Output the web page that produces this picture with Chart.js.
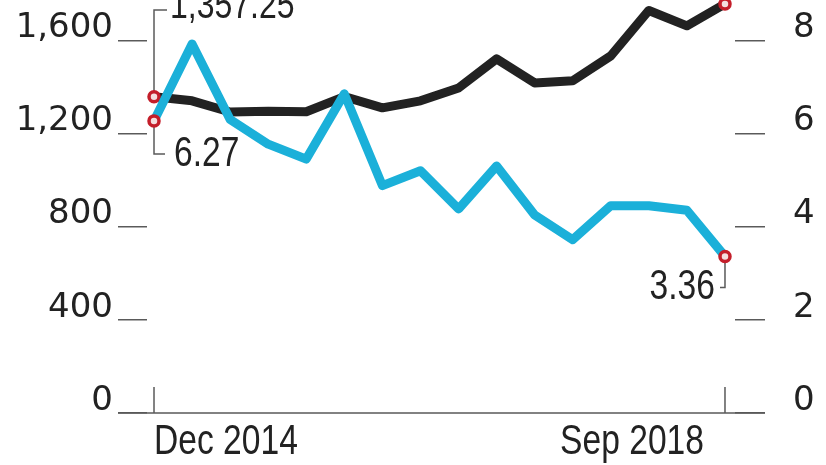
<!DOCTYPE html>
<html>
<head>
<meta charset="utf-8">
<script src="https://cdn.jsdelivr.net/npm/chart.js@4.4.1/dist/chart.umd.min.js"></script>
<style>
  html, body { margin: 0; padding: 0; background: #fff; }
  #wrap { width: 826px; height: 465px; }
</style>
</head>
<body>
<div id="wrap"><canvas id="chart" width="826" height="465"></canvas></div>
<script>
// quarterly, Dec 2014 .. Sep 2018
const quarters = [
  "Dec 2014", "Mar 2015", "Jun 2015", "Sep 2015",
  "Dec 2015", "Mar 2016", "Jun 2016", "Sep 2016",
  "Dec 2016", "Mar 2017", "Jun 2017", "Sep 2017",
  "Dec 2017", "Mar 2018", "Jun 2018", "Sep 2018"
];
// black line, left axis
const blackValues = [
  1357.25, 1340, 1292, 1295, 1293, 1358, 1310, 1340,
  1395, 1520, 1417, 1426, 1533, 1728, 1662, 1756
];
// blue line, right axis
const blueValues = [
  6.27, 7.92, 6.3, 5.77, 5.45, 6.85, 4.88, 5.2,
  4.38, 5.3, 4.25, 3.72, 4.45, 4.45, 4.35, 3.36
];
const leftTicks = [0, 400, 800, 1200, 1600];
const rightTicks = [0, 2, 4, 6, 8];
const shownQuarters = ["Dec 2014", "Sep 2018"];
const blackFirstLabel = "1,357.25";
const blueFirstLabel = "6.27";
const blueLastLabel = "3.36";

// top of the plot runs a bit past the last tick (lines reach the top edge)
const LEFT_MAX = 1760;
const RIGHT_MAX = LEFT_MAX / 200;

const INK = "#222";
const RULE = "#5a5a5a";
const BLUE = "#1bb0d9";
const DOT = "#c41e2a";
const last = quarters.length - 1;

const toPoints = (vals) => vals.map((v, i) => ({ x: i, y: v }));
const endRadius = (ctx) => (ctx.dataIndex === 0 || ctx.dataIndex === last ? 5 : 0);

// condensed text, like the narrow newspaper face
function narrowText(ctx, text, x, y, align, size) {
  ctx.save();
  ctx.font = size + "px 'Liberation Sans', Arial, sans-serif";
  ctx.fillStyle = INK;
  ctx.textBaseline = "alphabetic";
  ctx.translate(x, y);
  ctx.scale(0.8, 1);
  ctx.textAlign = align;
  ctx.fillText(text, 0, 0);
  ctx.restore();
}

const decorations = {
  id: "decorations",
  beforeDatasetsDraw(chart) {
    const { ctx, scales } = chart;
    const x = scales.x, yl = scales.yLeft, yr = scales.yRight;
    const x0 = x.getPixelForValue(0);
    const x1 = x.getPixelForValue(last);
    const base = yl.getPixelForValue(0);

    ctx.save();
    ctx.strokeStyle = RULE;
    ctx.lineWidth = 1.5;
    ctx.beginPath();
    // baseline
    ctx.moveTo(118, base);
    ctx.lineTo(765, base);
    // end ticks on the x axis
    ctx.moveTo(x0, base);
    ctx.lineTo(x0, base - 26);
    ctx.moveTo(x1, base);
    ctx.lineTo(x1, base - 26);
    // bracket to first black value
    const yb0 = yl.getPixelForValue(blackValues[0]);
    ctx.moveTo(x0, yb0);
    ctx.lineTo(x0, 10);
    ctx.lineTo(x0 + 13, 10);
    // bracket to first blue value
    const yc0 = yr.getPixelForValue(blueValues[0]);
    ctx.moveTo(x0, yc0);
    ctx.lineTo(x0, yc0 + 33);
    ctx.lineTo(x0 + 11, yc0 + 33);
    // bracket to last blue value
    const yc1 = yr.getPixelForValue(blueValues[last]);
    ctx.moveTo(x1, yc1);
    ctx.lineTo(x1, yc1 + 31);
    ctx.lineTo(x1 - 5, yc1 + 31);
    ctx.stroke();
    ctx.restore();
  },
  afterDraw(chart) {
    const { ctx, scales } = chart;
    const x = scales.x, yl = scales.yLeft, yr = scales.yRight;
    const x0 = x.getPixelForValue(0);
    const x1 = x.getPixelForValue(last);
    const base = yl.getPixelForValue(0);
    const yc0 = yr.getPixelForValue(blueValues[0]);
    const yc1 = yr.getPixelForValue(blueValues[last]);

    narrowText(ctx, blackFirstLabel, x0 + 16, 18, "left", 40);
    narrowText(ctx, blueFirstLabel, x0 + 20, yc0 + 45, "left", 42);
    narrowText(ctx, blueLastLabel, x1 - 10, yc1 + 43, "right", 42);
    narrowText(ctx, shownQuarters[0], x0, base + 41, "left", 42);
    narrowText(ctx, shownQuarters[1], x1 - 21, base + 41, "right", 42);
  }
};

const tickFont = { family: "'DejaVu Sans', sans-serif", size: 34 };

// keep the plot area exactly where the axes say, labels may overhang
function fitAxis(width) {
  return (s) => {
    s.width = width;
    s.paddingTop = 0;
    s.paddingBottom = 0;
  };
}

new Chart(document.getElementById("chart"), {
  type: "line",
  data: {
    datasets: [
      {
        data: toPoints(blueValues),
        yAxisID: "yRight",
        borderColor: BLUE,
        borderWidth: 9,
        borderJoinStyle: "round",
        tension: 0,
        clip: false,
        pointRadius: endRadius,
        pointBackgroundColor: "#f4dede",
        pointBorderColor: DOT,
        pointBorderWidth: 3.5
      },
      {
        data: toPoints(blackValues),
        yAxisID: "yLeft",
        borderColor: INK,
        borderWidth: 9,
        borderJoinStyle: "round",
        tension: 0,
        clip: false,
        pointRadius: endRadius,
        pointBackgroundColor: "#f4dede",
        pointBorderColor: DOT,
        pointBorderWidth: 3.5
      }
    ]
  },
  options: {
    responsive: false,
    animation: false,
    events: [],
    layout: { autoPadding: false, padding: { top: 3, bottom: 52, left: 0, right: 0 } },
    plugins: { legend: { display: false }, tooltip: { enabled: false } },
    scales: {
      x: {
        type: "linear",
        display: false,
        min: -0.184,
        max: last + 0.263
      },
      yLeft: {
        position: "left",
        min: 0,
        max: LEFT_MAX,
        afterFit: fitAxis(147),
        afterBuildTicks: (s) => { s.ticks = leftTicks.map((v) => ({ value: v })); },
        border: { display: false },
        grid: { drawOnChartArea: false, tickLength: 29, color: RULE, lineWidth: 1.5 },
        ticks: {
          font: tickFont,
          color: INK,
          padding: 5,
          labelOffset: -12,
          callback: (v) => v.toLocaleString("en-US")
        }
      },
      yRight: {
        position: "right",
        min: 0,
        max: RIGHT_MAX,
        afterFit: fitAxis(91),
        afterBuildTicks: (s) => { s.ticks = rightTicks.map((v) => ({ value: v })); },
        border: { display: false },
        grid: { drawOnChartArea: false, tickLength: 30, color: RULE, lineWidth: 1.5 },
        ticks: {
          font: tickFont,
          color: INK,
          padding: 28,
          labelOffset: -12,
          callback: (v) => String(v)
        }
      }
    }
  },
  plugins: [decorations]
});
</script>
</body>
</html>
